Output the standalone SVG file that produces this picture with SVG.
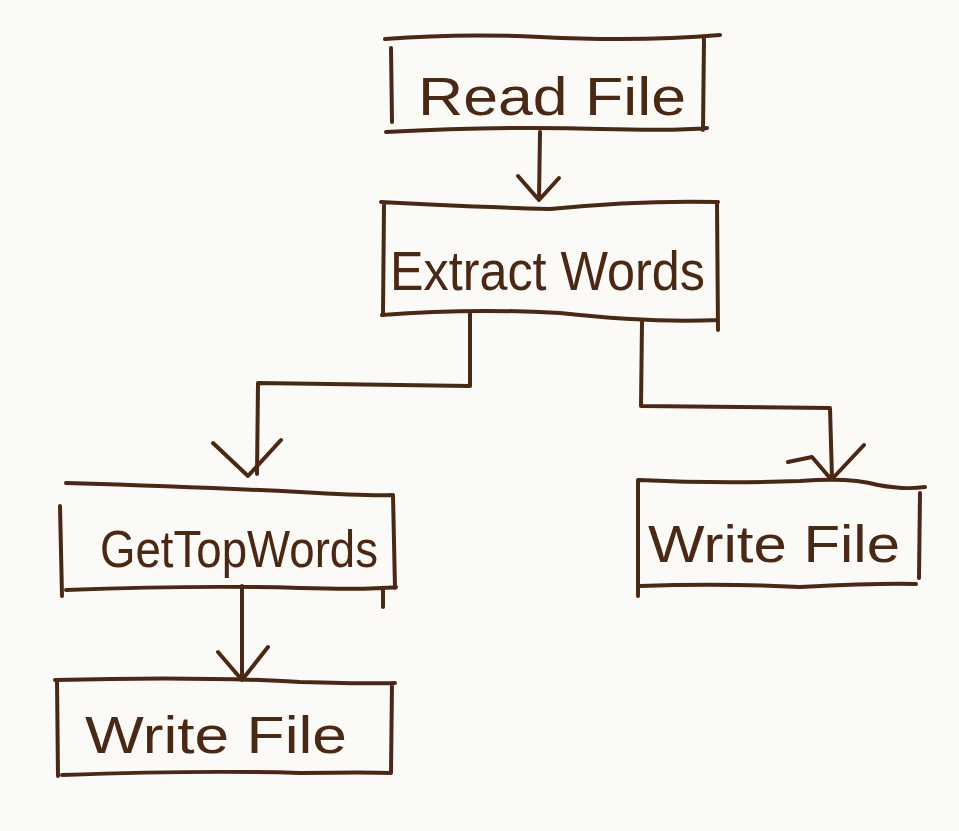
<svg xmlns="http://www.w3.org/2000/svg" width="959" height="831" viewBox="0 0 959 831">
<style>
.ink{fill:none;stroke:#4a2816;stroke-width:4;stroke-linecap:round;stroke-linejoin:round}
.lbl{fill:#4a2816;font-family:"Liberation Sans","DejaVu Sans",sans-serif;font-weight:normal}
</style>
<rect width="959" height="831" fill="#fcfaf7"/>
<g id="connectors">
<path class="ink" d="M540 132 L539 200 M518 176 L539 200 L559 178"/>
<path class="ink" d="M470 312 L470 386 L258 383 L257 474 M213 443 L248 476 L281 440"/>
<path class="ink" d="M642 322 L641 406 L830 408 L832 478 M788 462 L812 457 L830 478 M864 445 L833 478"/>
<path class="ink" d="M242 586 L242 678 M218 652 L242 680 L268 647"/>
</g>
<g id="read-file">
<path class="ink" d="M385 39 Q460 33 540 37 Q640 42 720 35 M391 48 L392 122 M704 38 L703 130 M386 132 Q500 126 600 129 Q680 131 707 128"/>
<text class="lbl" x="418" y="115" font-size="54" textLength="268" lengthAdjust="spacingAndGlyphs">Read File</text>
</g>
<g id="extract-words">
<path class="ink" d="M381 202 Q450 206 550 209 Q640 200 718 202 M384 204 L383 315 M717 202 L718 330 M382 315 Q470 308 560 313 Q650 323 718 320"/>
<text class="lbl" x="390" y="290" font-size="56" textLength="315" lengthAdjust="spacingAndGlyphs">Extract Words</text>
</g>
<g id="get-top-words">
<path class="ink" d="M66 483 Q200 487 300 492 Q370 496 392 495 M60 506 L62 596 M393 495 L395 588 M66 590 Q200 585 300 588 Q370 590 396 587 M383 590 L383 607"/>
<text class="lbl" x="100" y="567" font-size="52" textLength="278" lengthAdjust="spacingAndGlyphs">GetTopWords</text>
</g>
<g id="write-file-right">
<path class="ink" d="M639 480 Q720 484 800 481 Q850 477 878 485 Q905 490 925 487 M638 480 L638 596 M920 493 L919 578 M640 586 Q720 583 800 587 Q880 583 916 584"/>
<text class="lbl" x="648" y="562" font-size="52" textLength="252" lengthAdjust="spacingAndGlyphs">Write File</text>
</g>
<g id="write-file-bottom">
<path class="ink" d="M55 680 Q200 676 300 682 Q370 684 395 683 M57 680 L58 776 M392 683 L391 773 M62 775 Q200 770 300 773 Q370 772 390 773"/>
<text class="lbl" x="85" y="753" font-size="52" textLength="262" lengthAdjust="spacingAndGlyphs">Write File</text>
</g>
</svg>
